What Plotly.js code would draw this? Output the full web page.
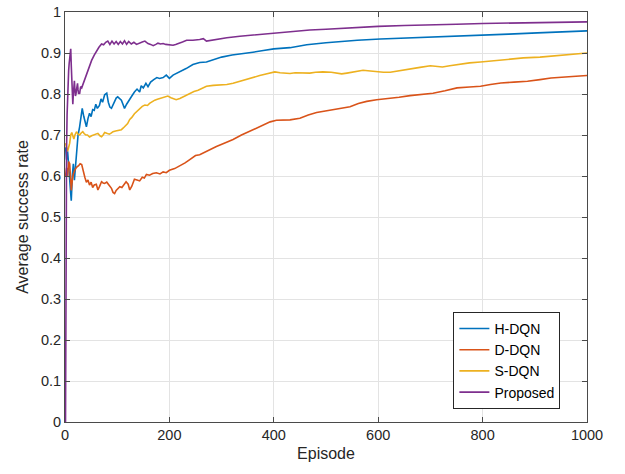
<!DOCTYPE html>
<html>
<head>
<meta charset="utf-8">
<script src="https://cdn.plot.ly/plotly-3.0.1.min.js"></script>
<style>
html,body{margin:0;padding:0;background:#fff;}
#chart{width:625px;height:474px;}
</style>
</head>
<body>
<div id="chart"></div>
<script>
// ---- data ----
const hdqnEp = [1,3,5,7,9,11,12,14,16,18,20,22,25,28,31,33,36,39,41,44,47,50,53,56,59,62,66,69,72,76,80,83,86,89,92,95,98,101,105,108,111,114,118,121,124,128,133,138,143,146,150,155,159,164,170,176,181,188,194,200,207,217,232,245,258,271,280,300,320,340,360,380,400,431,463,500,527,560,604,650,705,750,796,850,905,950,1000];
const hdqnVal = [0.67,0.64,0.66,0.62,0.58,0.56,0.54,0.60,0.63,0.59,0.62,0.663,0.70,0.72,0.745,0.765,0.745,0.73,0.72,0.74,0.753,0.745,0.762,0.76,0.775,0.765,0.772,0.788,0.78,0.798,0.802,0.78,0.768,0.765,0.775,0.785,0.79,0.793,0.789,0.785,0.775,0.765,0.775,0.782,0.789,0.795,0.805,0.812,0.805,0.82,0.815,0.826,0.818,0.829,0.835,0.84,0.838,0.84,0.846,0.838,0.846,0.852,0.862,0.872,0.877,0.878,0.882,0.89,0.895,0.898,0.902,0.906,0.91,0.913,0.92,0.925,0.928,0.931,0.934,0.936,0.939,0.941,0.943,0.946,0.949,0.951,0.954];

const ddqnEp = [1,3,5,7,9,11,12,14,16,19,22,26,29,32,35,38,41,44,47,50,53,56,60,63,66,70,73,76,80,83,86,89,92,95,98,101,105,109,113,117,121,124,128,133,138,143,148,152,156,162,168,175,182,188,194,200,210,220,230,239,250,258,270,280,290,305,322,338,354,367,380,393,405,420,431,450,466,482,495,508,530,546,562,578,597,623,640,661,683,705,728,751,775,796,815,835,860,886,910,931,965,1000];
const ddqnVal = [0.60,0.62,0.60,0.635,0.63,0.58,0.565,0.59,0.605,0.615,0.621,0.625,0.63,0.628,0.61,0.597,0.585,0.59,0.578,0.585,0.572,0.578,0.58,0.566,0.574,0.586,0.583,0.582,0.585,0.58,0.575,0.57,0.56,0.557,0.565,0.57,0.574,0.572,0.578,0.586,0.58,0.566,0.575,0.592,0.59,0.588,0.597,0.595,0.604,0.602,0.606,0.608,0.605,0.61,0.608,0.614,0.618,0.624,0.632,0.64,0.65,0.652,0.66,0.667,0.672,0.68,0.689,0.70,0.709,0.717,0.725,0.732,0.736,0.736,0.737,0.741,0.749,0.755,0.758,0.76,0.765,0.769,0.777,0.782,0.786,0.789,0.792,0.796,0.799,0.802,0.808,0.815,0.817,0.819,0.823,0.827,0.829,0.831,0.835,0.839,0.842,0.845];

const sdqnEp = [1,3,5,7,9,11,13,15,17,19,22,25,28,31,34,37,40,43,47,51,56,60,63,67,70,73,76,80,85,89,92,97,102,108,114,120,124,128,133,138,143,148,153,158,162,167,172,177,182,190,197,203,207,213,220,226,233,239,247,255,263,271,284,297,310,322,335,348,360,373,385,393,402,412,422,431,441,450,460,469,480,494,510,520,530,540,555,571,585,597,610,623,640,661,680,700,712,723,737,751,775,796,820,850,878,910,943,970,1000];
const sdqnVal = [0.68,0.67,0.66,0.67,0.68,0.70,0.706,0.698,0.69,0.70,0.708,0.702,0.70,0.705,0.708,0.703,0.70,0.70,0.695,0.698,0.70,0.703,0.704,0.698,0.696,0.70,0.706,0.704,0.702,0.705,0.708,0.71,0.712,0.713,0.72,0.728,0.738,0.743,0.752,0.758,0.766,0.77,0.773,0.772,0.777,0.782,0.785,0.787,0.789,0.792,0.795,0.791,0.789,0.786,0.789,0.793,0.798,0.802,0.806,0.809,0.814,0.819,0.821,0.822,0.823,0.826,0.831,0.837,0.841,0.845,0.849,0.851,0.854,0.852,0.851,0.85,0.852,0.852,0.851,0.851,0.853,0.854,0.853,0.851,0.849,0.851,0.855,0.858,0.856,0.854,0.853,0.853,0.857,0.861,0.865,0.869,0.868,0.866,0.869,0.872,0.876,0.878,0.881,0.885,0.888,0.89,0.893,0.896,0.90];

const propEp = [1,2,3,4,5,6,7,8,9,10,11,12,13,14,15,16,17,18,19,20,21,22,23,24,25,26,27,28,29,30,32,34,37,41,46,51,56,60,65,70,74,78,82,86,90,94,98,102,106,110,114,118,122,127,132,137,143,148,153,159,164,169,174,178,183,188,193,197,207,212,217,225,233,245,258,265,271,280,295,310,335,367,393,431,469,500,550,600,650,700,750,800,850,900,950,1000];
const propVal = [0,0.5,0.667,0.75,0.8,0.833,0.857,0.875,0.889,0.9,0.91,0.87,0.83,0.80,0.775,0.80,0.82,0.832,0.81,0.795,0.80,0.81,0.82,0.826,0.81,0.80,0.805,0.80,0.81,0.818,0.815,0.822,0.832,0.848,0.866,0.882,0.895,0.905,0.914,0.922,0.92,0.926,0.929,0.921,0.929,0.922,0.928,0.921,0.928,0.922,0.93,0.921,0.928,0.922,0.926,0.921,0.925,0.927,0.929,0.923,0.921,0.918,0.921,0.924,0.922,0.923,0.921,0.92,0.919,0.921,0.924,0.927,0.931,0.931,0.933,0.935,0.929,0.931,0.934,0.937,0.941,0.945,0.947,0.952,0.956,0.958,0.962,0.965,0.967,0.968,0.97,0.972,0.973,0.974,0.975,0.976];

const seriesNames = ["H-DQN","D-DQN","S-DQN","Proposed"];
const seriesColors = ["#0072BD","#D95319","#EDB120","#7E2F8E"];
const xTickVals = [0,200,400,600,800,1000];

const eps = [hdqnEp, ddqnEp, sdqnEp, propEp];
const vals = [hdqnVal, ddqnVal, sdqnVal, propVal];

const traces = seriesNames.map((n,i)=>({
  x: eps[i], y: vals[i], name: n, type: 'scatter', mode: 'lines',
  line: {color: seriesColors[i], width: 1.6}
}));

const font = "Liberation Sans, Arial, Helvetica, sans-serif";
const axColor = "#4a4a4a";

const layout = {
  width: 625, height: 474,
  margin: {l: 65, r: 38, t: 12, b: 52},
  paper_bgcolor: '#ffffff', plot_bgcolor: '#ffffff',
  font: {family: font, color: '#262626', size: 14},
  showlegend: true,
  legend: {
    x: 0.949, y: 0.032, xanchor: 'right', yanchor: 'bottom',
    bgcolor: '#ffffff', bordercolor: '#262626', borderwidth: 1,
    font: {family: font, size: 14, color: '#000'},
    tracegroupgap: 0,
    entrywidth: 110, entrywidthmode: 'pixels'
  },
  xaxis: {
    range: [0, 1000], tickvals: xTickVals,
    ticks: 'inside', ticklen: 5, tickcolor: axColor,
    showline: true, linecolor: axColor, linewidth: 1, mirror: 'ticks',
    showgrid: true, gridcolor: '#e3e3e3', zeroline: false,
    tickfont: {size: 14.5, color: '#262626'},
    title: {text: 'Episode', font: {size: 16, color: '#262626'}, standoff: 5}
  },
  yaxis: {
    range: [0, 1], dtick: 0.1, tick0: 0,
    ticks: 'inside', ticklen: 5, tickcolor: axColor,
    showline: true, linecolor: axColor, linewidth: 1, mirror: 'ticks',
    showgrid: true, gridcolor: '#e3e3e3', zeroline: false,
    tickfont: {size: 14.5, color: '#262626'},
    title: {text: 'Average success rate', font: {size: 16, color: '#262626'}, standoff: 8}
  }
};

Plotly.newPlot('chart', traces, layout, {displayModeBar: false, staticPlot: true});
</script>
</body>
</html>
